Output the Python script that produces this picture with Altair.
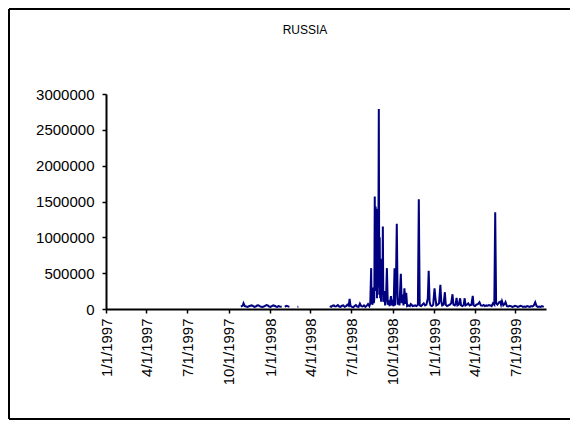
import altair as alt
import pandas as pd

# ---------------- data ----------------
# segment 1: late 1997 - Jan 1998
dates_s1 = ["1997-10-28", "1997-10-30", "1997-11-01", "1997-11-03", "1997-11-06", "1997-11-09",
            "1997-11-12", "1997-11-15", "1997-11-18", "1997-11-21", "1997-11-24", "1997-11-27",
            "1997-11-30", "1997-12-03", "1997-12-06", "1997-12-09", "1997-12-12", "1997-12-15",
            "1997-12-18", "1997-12-21", "1997-12-24", "1997-12-27", "1997-12-30", "1998-01-02",
            "1998-01-05", "1998-01-08", "1998-01-11", "1998-01-14", "1998-01-17", "1998-01-20",
            "1998-01-23", "1998-01-27"]
values_s1 = [35000, 40000, 45000, 82000, 40000, 35000, 30000, 38000, 45000, 50000, 42000, 30000,
             35000, 48000, 52000, 40000, 30000, 28000, 35000, 45000, 55000, 50000, 35000, 30000,
             40000, 50000, 45000, 35000, 30000, 40000, 35000, 30000]

# segment 2 and 3: short pieces in Feb / Mar 1998
dates_s2 = ["1998-02-03", "1998-02-06", "1998-02-09", "1998-02-13"]
values_s2 = [30000, 45000, 40000, 30000]
dates_s3 = ["1998-03-03", "1998-03-05"]
values_s3 = [30000, 32000]

# segment 4: continuous from May 1998
dates_mj98 = ["1998-05-14", "1998-05-17", "1998-05-20", "1998-05-23", "1998-05-26", "1998-05-29",
              "1998-06-01", "1998-06-04", "1998-06-07", "1998-06-10", "1998-06-13", "1998-06-16",
              "1998-06-19", "1998-06-22", "1998-06-25", "1998-06-27", "1998-06-29", "1998-07-02",
              "1998-07-05", "1998-07-08", "1998-07-11", "1998-07-14", "1998-07-17", "1998-07-20",
              "1998-07-23", "1998-07-26", "1998-07-29", "1998-08-01", "1998-08-04", "1998-08-07",
              "1998-08-10"]
values_mj98 = [40000, 30000, 45000, 50000, 35000, 40000, 55000, 35000, 30000, 45000, 50000, 30000,
               40000, 60000, 45000, 140000, 45000, 30000, 25000, 40000, 55000, 35000, 30000, 75000,
               40000, 35000, 50000, 30000, 45000, 70000, 40000]

dates_crisis = ["1998-08-12", "1998-08-14", "1998-08-15", "1998-08-17", "1998-08-19", "1998-08-20",
                "1998-08-21", "1998-08-22", "1998-08-23", "1998-08-24", "1998-08-25", "1998-08-26",
                "1998-08-27", "1998-08-28", "1998-08-29", "1998-08-30", "1998-08-31", "1998-09-01",
                "1998-09-02", "1998-09-03", "1998-09-04", "1998-09-05", "1998-09-06", "1998-09-07",
                "1998-09-08", "1998-09-09", "1998-09-10", "1998-09-12", "1998-09-14", "1998-09-16",
                "1998-09-18", "1998-09-20", "1998-09-22", "1998-09-24", "1998-09-27", "1998-09-29",
                "1998-10-01", "1998-10-03", "1998-10-05", "1998-10-06", "1998-10-08", "1998-10-10",
                "1998-10-12", "1998-10-14", "1998-10-16", "1998-10-19", "1998-10-21", "1998-10-23",
                "1998-10-25", "1998-10-27", "1998-10-29", "1998-10-31"]
values_crisis = [80000, 570000, 90000, 60000, 300000, 80000, 150000, 1570000, 250000, 1430000,
                 400000, 1400000, 150000, 1200000, 300000, 900000, 2790000, 200000, 1000000,
                 150000, 700000, 100000, 450000, 600000, 200000, 1150000, 100000, 250000, 50000,
                 150000, 570000, 60000, 120000, 40000, 180000, 50000, 90000, 40000, 570000, 50000,
                 300000, 1190000, 60000, 150000, 50000, 490000, 80000, 200000, 50000, 290000,
                 70000, 225000]

dates_late98 = ["1998-11-02", "1998-11-05", "1998-11-08", "1998-11-10", "1998-11-12", "1998-11-14",
                "1998-11-17", "1998-11-20", "1998-11-23", "1998-11-26", "1998-11-28", "1998-11-30",
                "1998-12-03", "1998-12-06", "1998-12-09", "1998-12-12", "1998-12-15", "1998-12-18",
                "1998-12-20", "1998-12-22", "1998-12-24", "1998-12-27", "1998-12-30"]
values_late98 = [40000, 50000, 40000, 70000, 60000, 40000, 45000, 50000, 40000, 60000, 1530000,
                 50000, 40000, 60000, 80000, 50000, 60000, 150000, 535000, 100000, 50000, 40000,
                 60000]

dates_h1_99 = ["1999-01-02", "1999-01-04", "1999-01-06", "1999-01-09", "1999-01-12", "1999-01-15",
               "1999-01-17", "1999-01-19", "1999-01-22", "1999-01-25", "1999-01-27", "1999-01-30",
               "1999-02-02", "1999-02-05", "1999-02-08", "1999-02-11", "1999-02-13", "1999-02-16",
               "1999-02-18", "1999-02-20", "1999-02-22", "1999-02-25", "1999-02-28", "1999-03-02",
               "1999-03-05", "1999-03-08", "1999-03-10", "1999-03-12", "1999-03-15", "1999-03-18",
               "1999-03-21", "1999-03-25", "1999-03-28", "1999-03-30", "1999-04-02", "1999-04-05",
               "1999-04-09", "1999-04-12", "1999-04-15", "1999-04-18", "1999-04-21", "1999-04-24",
               "1999-04-27", "1999-04-30", "1999-05-03", "1999-05-06", "1999-05-09", "1999-05-12",
               "1999-05-15", "1999-05-17", "1999-05-19", "1999-05-22", "1999-05-25", "1999-05-28",
               "1999-05-30", "1999-06-01", "1999-06-04", "1999-06-07", "1999-06-09", "1999-06-12"]
values_h1_99 = [290000, 150000, 50000, 60000, 80000, 336000, 100000, 50000, 60000, 234000, 60000,
                40000, 50000, 60000, 80000, 206000, 60000, 50000, 70000, 154000, 50000, 60000,
                150000, 50000, 40000, 60000, 150000, 50000, 60000, 80000, 50000, 60000, 182000,
                50000, 40000, 60000, 70000, 94000, 50000, 45000, 55000, 40000, 50000, 45000,
                55000, 50000, 40000, 80000, 60000, 1350000, 80000, 60000, 90000, 102000, 60000,
                110000, 50000, 70000, 95000, 40000]

dates_q3_99 = ["1999-06-15", "1999-06-18", "1999-06-21", "1999-06-24", "1999-06-27", "1999-06-30",
               "1999-07-03", "1999-07-06", "1999-07-09", "1999-07-12", "1999-07-15", "1999-07-18",
               "1999-07-21", "1999-07-24", "1999-07-27", "1999-07-30", "1999-08-02", "1999-08-05",
               "1999-08-08", "1999-08-11", "1999-08-14", "1999-08-17", "1999-08-20", "1999-08-23",
               "1999-08-26", "1999-08-29", "1999-09-02"]
values_q3_99 = [35000, 45000, 40000, 30000, 35000, 45000, 40000, 30000, 35000, 45000, 40000, 30000,
                35000, 30000, 40000, 35000, 30000, 40000, 35000, 50000, 95000, 40000, 30000, 35000,
                30000, 40000, 30000]

x_tick_dates = ["1997-01-01", "1997-04-01", "1997-07-01", "1997-10-01", "1998-01-01", "1998-04-01",
                "1998-07-01", "1998-10-01", "1999-01-01", "1999-04-01", "1999-07-01"]
y_tick_values = [0, 500000, 1000000, 1500000, 2000000, 2500000, 3000000]
title_text = "RUSSIA"

# ---------------- table ----------------
segments = [
    (1, dates_s1, values_s1),
    (2, dates_s2, values_s2),
    (3, dates_s3, values_s3),
    (4, dates_mj98 + dates_crisis + dates_late98 + dates_h1_99 + dates_q3_99,
     values_mj98 + values_crisis + values_late98 + values_h1_99 + values_q3_99),
]
rows = []
for seg, ds, vs in segments:
    for d, v in zip(ds, vs):
        rows.append({"date": d, "value": v, "seg": seg})
df = pd.DataFrame(rows)


def ms(d):
    return int(pd.Timestamp(d, tz="UTC").timestamp() * 1000)


x_domain = [ms("1997-01-01"), ms("1999-09-07")]
x_ticks = [ms(d) for d in x_tick_dates]

FONT = "Liberation Sans"
W, H = 440, 215
PAD_L, PAD_T = 98, 86
TOTAL_W, TOTAL_H = 563, 412
PAD_R, PAD_B = TOTAL_W - PAD_L - W, TOTAL_H - PAD_T - H

line = alt.Chart(df).mark_line(color="#000080", strokeWidth=2).encode(
    x=alt.X("date:T",
            scale=alt.Scale(type="utc", domain=x_domain, nice=False),
            axis=alt.Axis(values=x_ticks,
                          labelExpr="utcFormat(datum.value, '%-m/%-d/%Y')",
                          labelAngle=270, title=None, grid=False,
                          labelFont=FONT, labelFontSize=15, labelColor="black",
                          labelPadding=5, tickSize=4, tickWidth=1.5, tickColor="black",
                          domainColor="black", domainWidth=2, labelOverlap=False)),
    y=alt.Y("value:Q",
            scale=alt.Scale(domain=[0, 3000000], nice=False, zero=True),
            axis=alt.Axis(values=y_tick_values, format="d", title=None, grid=False,
                          labelFont=FONT, labelFontSize=15, labelColor="black",
                          labelPadding=8, tickSize=4, tickWidth=1.5, tickColor="black",
                          domainColor="black", domainWidth=2, labelOverlap=False)),
    detail="seg:N",
)

one = pd.DataFrame({"k": [0]})
left_x = 1 - PAD_L
top_y = 1 - PAD_T
bottom_y = TOTAL_H - 1 - PAD_T
right_x = TOTAL_W - PAD_L - 1
border_left = alt.Chart(one).mark_rule(stroke="black", strokeWidth=2).encode(
    x=alt.value(left_x), y=alt.value(top_y), y2=alt.value(bottom_y)
)
border_top = alt.Chart(one).mark_rule(stroke="black", strokeWidth=2).encode(
    x=alt.value(left_x), x2=alt.value(right_x), y=alt.value(top_y)
)
border_bottom = alt.Chart(one).mark_rule(stroke="black", strokeWidth=2).encode(
    x=alt.value(left_x), x2=alt.value(right_x), y=alt.value(bottom_y)
)
title = alt.Chart(one).mark_text(font=FONT, fontSize=12, color="black").encode(
    x=alt.value(199), y=alt.value(-64), text=alt.value(title_text)
)

chart = alt.layer(border_left, border_top, border_bottom, line, title).properties(
    width=W, height=H,
    autosize=alt.AutoSizeParams(type="none"),
    padding={"left": PAD_L, "top": PAD_T, "right": PAD_R, "bottom": PAD_B},
    background="white",
).configure_view(stroke=None)

chart.save("out.html", embed_options={"renderer": "svg", "actions": False})
